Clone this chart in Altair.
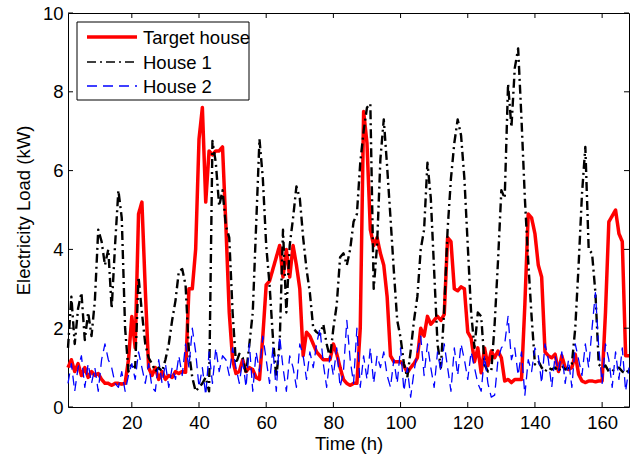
import altair as alt
import pandas as pd

hours = list(range(1, 169))

target_house = [
    1.0, 1.2, 0.9, 1.1, 0.8, 1.0, 0.75, 0.9, 0.8, 0.85,
    0.7, 0.6, 0.6, 0.55, 0.6, 0.6, 0.58, 0.6, 1.2, 2.3,
    1.5, 4.9, 5.2, 3.0, 1.0, 0.8, 1.0, 0.7, 0.9, 0.7,
    0.8, 0.75, 0.9, 0.85, 0.9, 0.88, 3.0, 3.0, 4.0, 6.8,
    7.6, 5.2, 6.5, 6.4, 6.5, 6.5, 6.6, 4.6, 2.4, 1.2,
    0.85, 0.9, 1.2, 0.9, 1.0, 0.95, 0.75, 0.7, 1.8, 3.1,
    3.2, 3.5, 3.8, 4.1, 3.3, 4.0, 3.3, 4.1, 3.6, 3.0,
    1.3, 1.9, 1.8, 1.6, 1.4, 1.3, 1.2, 1.2, 1.2, 1.6,
    1.35, 1.0, 0.7, 0.6, 0.55, 0.6, 0.6, 2.0, 7.5, 6.7,
    4.5, 4.1, 4.3, 3.9, 3.6, 2.8, 1.3, 1.15, 1.15, 1.15,
    1.05, 0.87, 1.0, 1.1, 1.25, 2.0, 1.8, 2.3, 2.1, 2.2,
    2.3, 2.2, 2.35, 4.3, 4.2, 3.0, 2.95, 3.05, 3.0, 1.9,
    1.75, 1.15, 1.5, 0.87, 1.5, 1.05, 1.42, 1.25, 1.42, 1.25,
    0.66, 0.7, 0.62, 0.7, 0.7, 0.7, 2.6, 4.9, 4.8, 4.4,
    3.6, 3.3, 1.4, 1.3, 1.25, 1.34, 0.9, 1.3, 1.0, 0.95,
    1.0, 1.34, 0.83, 0.66, 0.62, 0.66, 0.66, 0.64, 0.66, 0.66,
    2.4, 4.7, 4.85, 5.0, 4.4, 4.2, 1.3, 1.3,
]

house_1 = [
    1.5, 2.8, 1.6, 2.5, 2.9, 1.7, 2.4, 1.8, 2.7, 4.5,
    4.2, 3.6, 4.0, 2.5, 4.1, 5.5, 4.8, 2.0, 0.9, 1.1,
    1.0, 3.3, 2.4, 1.6, 1.25, 1.1, 0.9, 1.0, 0.9, 1.2,
    1.6, 2.2, 2.7, 3.45, 3.5, 3.1, 1.4, 0.75, 0.4, 0.5,
    0.6, 0.75, 0.4, 6.75, 6.2, 5.1, 5.5, 4.6, 4.3, 2.4,
    1.1, 1.35, 1.25, 0.83, 1.6, 2.4, 4.6, 6.8, 5.8, 4.1,
    3.1, 1.76, 0.75, 1.6, 4.5, 2.4, 4.1, 4.8, 5.6, 5.3,
    4.3, 3.5, 2.9, 2.0, 1.9, 1.84, 2.1, 1.6, 1.25, 2.0,
    2.6, 3.8, 3.9, 3.6, 4.0, 4.7, 4.9, 6.2, 7.0, 7.6,
    7.7, 3.0, 4.1, 6.3, 7.3, 6.1, 4.8, 3.45, 2.2, 1.76,
    1.1, 0.75, 1.42, 2.2, 2.8, 4.0, 4.5, 6.2, 5.3, 3.45,
    1.6, 1.0, 2.5, 4.5, 5.8, 6.7, 7.3, 6.9, 5.8, 4.1,
    2.4, 1.5, 2.4, 2.3, 1.08, 0.9, 0.9, 2.1, 3.7, 5.5,
    5.3, 8.2, 7.1, 8.6, 9.1, 7.3, 5.3, 3.7, 2.3, 1.08,
    1.17, 1.0, 0.9, 1.0, 0.95, 1.0, 0.9, 1.05, 0.95, 1.0,
    1.1, 2.0, 3.6, 5.4, 6.6, 4.0, 3.9, 2.9, 1.08, 1.0,
    1.05, 0.9, 0.9, 1.0, 1.0, 0.9, 0.85, 0.95,
]

house_2 = [
    0.6, 1.1, 0.4, 1.0, 1.3, 0.5, 1.1, 0.6, 1.0, 0.4,
    1.2, 1.6, 1.2, 1.0, 0.6, 0.5, 0.9, 0.4, 0.8, 1.1,
    0.7, 1.4, 1.0, 0.6, 1.1, 0.5, 0.4, 1.2, 0.6, 1.1,
    0.5, 1.0, 0.7, 1.3, 0.8, 1.6, 1.0, 2.0, 1.4, 0.5,
    1.0, 0.3, 1.4, 0.6, 1.5, 0.9, 1.3, 1.2, 0.8, 1.5,
    1.0, 0.6, 1.2, 0.5, 1.6, 0.4, 1.4, 0.9, 1.8, 1.2,
    0.6, 1.5, 0.4, 1.8, 1.0, 0.4, 1.3, 1.0, 0.5, 1.6,
    1.3, 0.7, 1.4, 1.0, 1.6, 2.0, 1.1, 0.5, 1.3, 0.8,
    1.5, 0.5, 0.9, 2.2, 1.2, 0.6, 2.0, 0.5, 1.3, 0.7,
    1.5, 0.6, 1.3, 1.0, 1.4, 0.8, 0.5, 1.2, 0.6, 1.5,
    0.4, 1.0, 0.25, 0.9, 1.4, 1.8, 0.8, 1.6, 1.0, 0.5,
    1.4, 0.9, 1.6, 1.0, 0.4, 1.5, 0.8, 1.6, 1.2, 0.7,
    1.4, 1.0, 0.6, 0.4, 1.3, 0.6, 0.25, 0.3, 1.2, 1.5,
    1.6, 2.3, 1.2, 1.5, 0.8, 1.4, 0.3, 1.2, 0.9, 1.5,
    1.3, 0.6, 1.6, 1.2, 0.5, 1.3, 0.9, 1.4, 0.6, 1.2,
    0.5, 1.6, 1.2, 0.8, 1.6, 1.0, 2.0, 2.9, 1.5, 0.6,
    1.6, 1.2, 0.5, 1.4, 0.7, 1.5, 0.4, 1.0,
]

series_names = ["Target house", "House 1", "House 2"]
series_colors = ["#ff0000", "#000000", "#0000ff"]
series_dashes = [[1, 0], [9, 4, 2, 4], [10, 6]]
series_widths = [3.5, 1.3, 1.5]

x_ticks = [20, 40, 60, 80, 100, 120, 140, 160]
y_ticks = [0, 2, 4, 6, 8, 10]

W, H = 561, 394
FONT = "Liberation Sans"
FS = 18.5

rows = []
for name, vals in zip(series_names, [target_house, house_1, house_2]):
    for h, v in zip(hours, vals):
        rows.append({"hour": h, "load": v, "series": name})
df = pd.DataFrame(rows)

x_scale = alt.Scale(domain=[1, 168], nice=False, zero=False)
y_scale = alt.Scale(domain=[0, 10], nice=False)
x_axis = alt.Axis(values=x_ticks, title="Time (h)", labelPadding=6, titlePadding=3)
y_axis = alt.Axis(values=y_ticks, title="Electricity Load (kW)", labelPadding=5, titlePadding=9)

base = alt.Chart(df).encode(
    x=alt.X("hour:Q", scale=x_scale, axis=x_axis),
    y=alt.Y("load:Q", scale=y_scale, axis=y_axis),
    color=alt.Color("series:N", scale=alt.Scale(domain=series_names, range=series_colors),
                    legend=None),
    strokeDash=alt.StrokeDash("series:N", scale=alt.Scale(domain=series_names, range=series_dashes),
                              legend=None),
    strokeWidth=alt.StrokeWidth("series:N", scale=alt.Scale(domain=series_names, range=series_widths),
                                legend=None),
)

line_layers = [
    base.transform_filter(alt.datum.series == n).mark_line(strokeJoin="round")
    for n in series_names
]

xt = pd.DataFrame({"hour": x_ticks})
yt = pd.DataFrame({"load": y_ticks})

def xtick(y0, y1):
    return alt.Chart(xt).mark_rule(color="black", strokeWidth=1).encode(
        x=alt.X("hour:Q", scale=x_scale, axis=x_axis), y=alt.value(y0), y2=alt.value(y1))

def ytick(x0, x1):
    return alt.Chart(yt).mark_rule(color="black", strokeWidth=1).encode(
        y=alt.Y("load:Q", scale=y_scale, axis=y_axis), x=alt.value(x0), x2=alt.value(x1))

ticks = [xtick(H, H - 5), xtick(0, 5), ytick(0, 5), ytick(W, W - 5)]

# legend box (drawn manually, MATLAB style)
legend_box = alt.Chart(pd.DataFrame({"k": [0]})).mark_rect(
    fill="white", stroke="black", strokeWidth=1
).encode(x=alt.value(9), x2=alt.value(181), y=alt.value(9), y2=alt.value(87))

legend_layers = [legend_box]
row_y = [24, 49, 73]
for name, col, dash, wdt, ry in zip(series_names, series_colors, series_dashes, series_widths, row_y):
    legend_layers.append(
        alt.Chart(pd.DataFrame({"k": [0]})).mark_rule(color=col, strokeDash=dash, strokeWidth=wdt)
        .encode(x=alt.value(19), x2=alt.value(69), y=alt.value(ry))
    )
    legend_layers.append(
        alt.Chart(pd.DataFrame({"k": [0]})).mark_text(
            text=name, font=FONT, fontSize=FS, color="black", align="left", baseline="middle")
        .encode(x=alt.value(75), y=alt.value(ry + 1))
    )

chart = alt.layer(*line_layers, *ticks, *legend_layers).properties(
    width=W,
    height=H,
    autosize=alt.AutoSizeParams(type="none"),
    padding={"left": 68, "top": 13, "right": 1, "bottom": 56},
    background="white",
).configure_view(
    stroke="black", strokeWidth=1
).configure_axis(
    grid=False, ticks=False, tickSize=0, domain=False,
    labelFont=FONT, labelFontSize=FS, labelColor="black",
    titleFont=FONT, titleFontSize=FS, titleFontWeight="normal", titleColor="black",
)

chart.save("out.html", embed_options={"renderer": "svg", "actions": False})
